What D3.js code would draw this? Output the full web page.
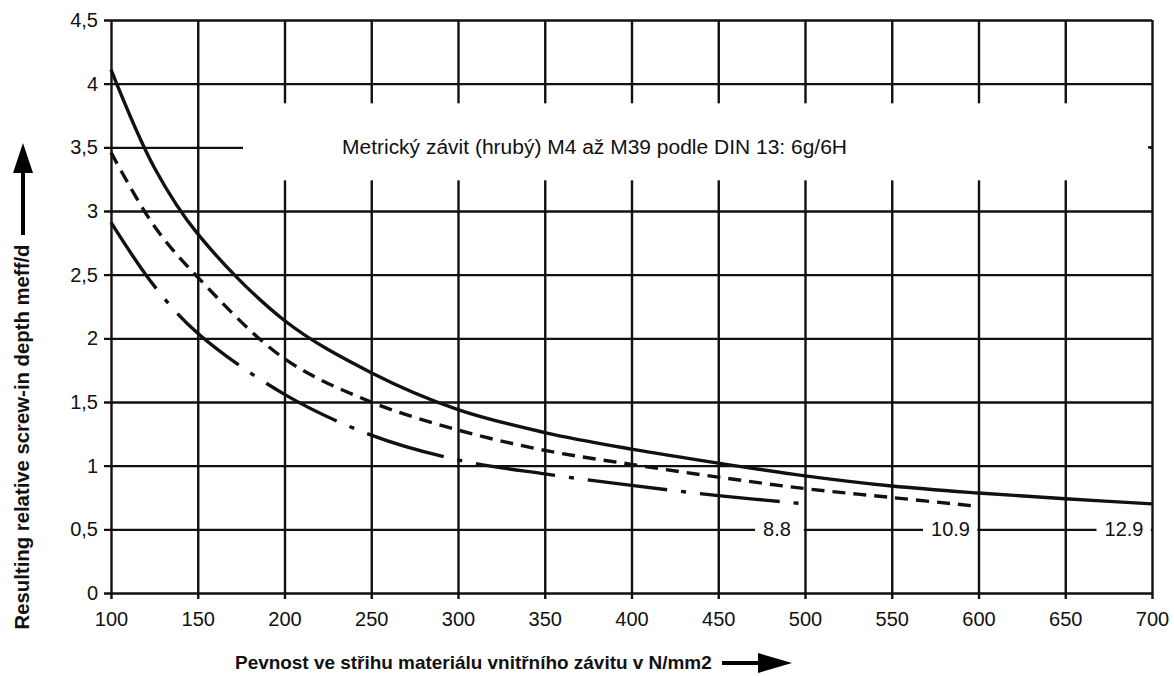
<!DOCTYPE html>
<html>
<head>
<meta charset="utf-8">
<script src="https://cdn.jsdelivr.net/npm/d3@7"></script>
<style>
  body { margin: 0; background: #fff; }
  svg text { font-family: "Liberation Sans", Arial, Helvetica, sans-serif; fill: #111; }
</style>
</head>
<body>
<svg id="chart" width="1174" height="676"></svg>
<script>
// shear strength of internal thread material, N/mm2
const xTicks = [100, 150, 200, 250, 300, 350, 400, 450, 500, 550, 600, 650, 700];
const yTicks = [0, 0.5, 1, 1.5, 2, 2.5, 3, 3.5, 4, 4.5];

// strength class 12.9 (solid)
const x129 = [100, 125, 150, 200, 250, 300, 350, 400, 450, 500, 550, 600, 650, 700];
const y129 = [4.11, 3.34, 2.82, 2.14, 1.73, 1.44, 1.26, 1.13, 1.02, 0.92, 0.84, 0.785, 0.74, 0.70];
// strength class 10.9 (dashed)
const x109 = [100, 125, 150, 200, 250, 300, 350, 400, 450, 500, 550, 600];
const y109 = [3.46, 2.88, 2.48, 1.84, 1.50, 1.28, 1.12, 1.01, 0.91, 0.82, 0.75, 0.68];
// strength class 8.8 (dash-dot)
const x88 = [100, 125, 150, 200, 250, 300, 350, 400, 450, 500];
const y88 = [2.91, 2.41, 2.04, 1.56, 1.24, 1.045, 0.935, 0.845, 0.765, 0.70];

const classLabels = ['8.8', '10.9', '12.9'];
const classEnds = [500, 600, 700];

const title = 'Metrický závit (hrubý) M4 až M39 podle DIN 13: 6g/6H';
const xTitle = 'Pevnost ve střihu materiálu vnitřního závitu v N/mm2';
const yTitle = 'Resulting relative screw-in depth meff/d';

const W = 1174, H = 676;
const margin = { top: 20, right: 22, bottom: 83, left: 111 };
const w = W - margin.left - margin.right;
const h = H - margin.top - margin.bottom;

const svg = d3.select('#chart');
const g = svg.append('g').attr('transform', `translate(${margin.left},${margin.top})`);

const x = d3.scaleLinear().domain([100, 700]).range([0, w]);
const y = d3.scaleLinear().domain([0, 4.5]).range([h, 0]);

// scale a text's font size so it spans the given width
function fitWidth(t, target) {
  const fs = +t.attr('font-size');
  const len = t.node().getComputedTextLength();
  t.attr('font-size', (fs * target / len).toFixed(2));
}

// horizontal grid + y labels
const yAxis = g.append('g')
  .attr('transform', 'translate(-7,0)')
  .call(d3.axisLeft(y).tickValues(yTicks).tickSize(-(w + 7)).tickPadding(6)
    .tickFormat(d => String(d).replace('.', ',')));
yAxis.select('.domain').remove();
yAxis.selectAll('line').attr('stroke', '#111').attr('stroke-width', 2.4);
yAxis.selectAll('text').attr('font-size', 20);

// vertical grid + x labels
const xAxis = g.append('g')
  .attr('transform', `translate(0,${h + 6})`)
  .call(d3.axisBottom(x).tickValues(xTicks).tickSize(-(h + 6)).tickPadding(13));
xAxis.select('.domain').remove();
xAxis.selectAll('line').attr('stroke', '#111').attr('stroke-width', 2.4);
xAxis.selectAll('text').attr('font-size', 20);

// white box behind the title breaks the grid
g.append('rect')
  .attr('x', 132).attr('y', y(3.5) - 44)
  .attr('width', w - 134).attr('height', 77)
  .attr('fill', '#fff');
g.append('line')
  .attr('x1', w - 4).attr('x2', w).attr('y1', y(3.5)).attr('y2', y(3.5))
  .attr('stroke', '#111').attr('stroke-width', 2.4);
const tt = g.append('text')
  .attr('x', 231).attr('y', y(3.5) + 7)
  .attr('font-size', 16)
  .text(title);
fitWidth(tt, 505);

// curves
const line = d3.line().x(d => x(d[0])).y(d => y(d[1])).curve(d3.curveCatmullRom.alpha(0.5));
const series = [
  { xs: x129, ys: y129, dash: null },
  { xs: x109, ys: y109, dash: '13,8' },
  { xs: x88, ys: y88, dash: '80,14,5,14' }
];
series.forEach(s => {
  g.append('path')
    .datum(s.xs.map((v, i) => [v, s.ys[i]]))
    .attr('d', line)
    .attr('fill', 'none')
    .attr('stroke', '#111')
    .attr('stroke-width', 3.4)
    .attr('stroke-dasharray', s.dash);
});

// class labels on the 0.5 line
classLabels.forEach((lab, i) => {
  const xe = x(classEnds[i]);
  const bg = g.append('rect').attr('fill', '#fff');
  const t = g.append('text')
    .attr('x', xe - 28).attr('y', y(0.5) + 7)
    .attr('text-anchor', 'middle')
    .attr('font-size', 20)
    .text(lab);
  const bb = t.node().getBBox();
  bg.attr('x', bb.x - 8).attr('y', y(0.5) - 3)
    .attr('width', xe - 1.2 - (bb.x - 8)).attr('height', 6);
});

// axis titles with arrows
const xt = svg.append('text')
  .attr('x', 235).attr('y', 669)
  .attr('font-size', 16).attr('font-weight', 'bold')
  .text(xTitle);
fitWidth(xt, 477);
svg.append('line').attr('x1', 722).attr('x2', 762).attr('y1', 663).attr('y2', 663)
  .attr('stroke', '#000').attr('stroke-width', 4);
svg.append('path').attr('d', 'M758,653 L792,663 L758,673 Z').attr('fill', '#000');

const yt = svg.append('text')
  .attr('transform', 'translate(29,437) rotate(-90)')
  .attr('text-anchor', 'middle')
  .attr('font-size', 16).attr('font-weight', 'bold')
  .text(yTitle);
fitWidth(yt, 385);
svg.append('line').attr('x1', 23).attr('x2', 23).attr('y1', 235).attr('y2', 168)
  .attr('stroke', '#000').attr('stroke-width', 4);
svg.append('path').attr('d', 'M13,173 L23,143 L33,173 Z').attr('fill', '#000');
</script>
</body>
</html>
